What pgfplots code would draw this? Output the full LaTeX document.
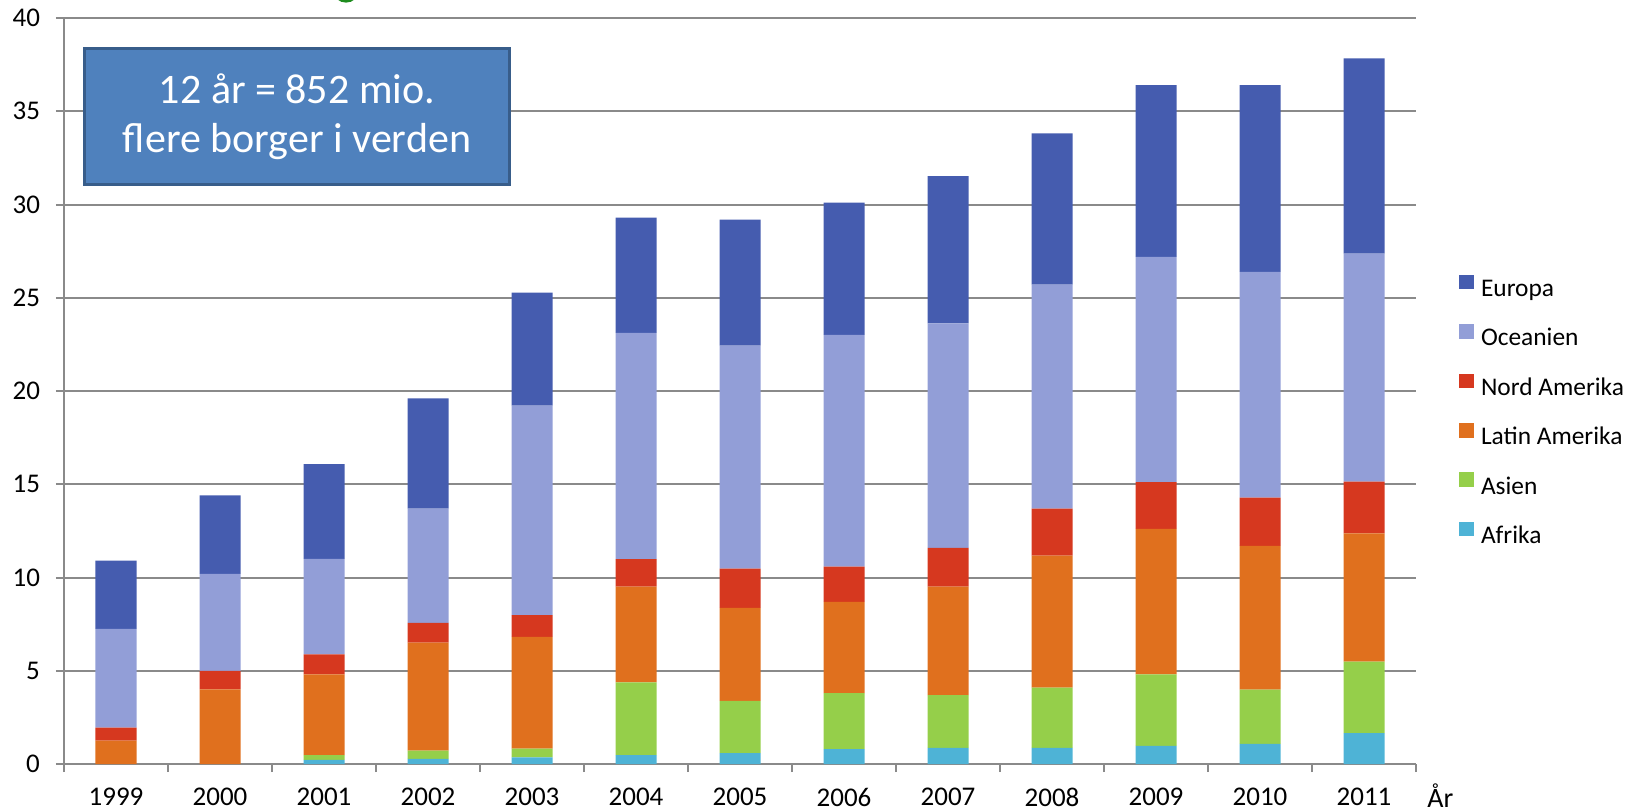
\documentclass[border=0pt]{standalone}
\usepackage{fontspec}
\setmainfont{Carlito}
\usepackage{pgfplots}
\usepackage{pgfplotstable}
\pgfplotsset{compat=1.18}
\definecolor{cEur}{HTML}{455CAF}
\definecolor{cOce}{HTML}{929ED7}
\definecolor{cNord}{HTML}{D6381F}
\definecolor{cLat}{HTML}{E0701E}
\definecolor{cAsi}{HTML}{95CF4A}
\definecolor{cAfr}{HTML}{4EB3D6}
\definecolor{boxfill}{HTML}{4F81BD}
\definecolor{boxline}{HTML}{385D8A}
\definecolor{gridgray}{HTML}{8A8A8A}
\definecolor{titlegreen}{HTML}{1E8C1E}
\pgfplotstableread{
x Afrika Asien Latin Nord Oceanien Europa
0  0.00 0.00 1.25 0.70 5.30 3.65
1  0.00 0.00 4.00 1.00 5.20 4.20
2  0.22 0.25 4.33 1.08 5.12 5.08
3  0.28 0.44 5.79 1.06 6.12 5.91
4  0.36 0.47 5.99 1.16 11.23 6.07
5  0.47 3.91 5.13 1.47 12.14 6.18
6  0.58 2.80 4.99 2.11 11.95 6.76
7  0.80 3.00 4.90 1.89 12.42 7.09
8  0.86 2.83 5.82 2.08 12.03 7.90
9  0.86 3.24 7.07 2.52 12.01 8.12
10 0.97 3.83 7.81 2.50 12.08 9.21
11 1.08 2.91 7.71 2.58 12.11 10.01
12 1.66 3.83 6.87 2.78 12.22 10.48
}\datatable
\pgfplotsset{sq/.style={legend image code/.code={\fill[##1] (0pt,0.6pt) rectangle (7.3pt,7.9pt);}}}
\begin{document}
\begin{tikzpicture}
\begin{axis}[
  scale only axis, width=676pt, height=373pt,
  ybar stacked, bar width=20.5pt,
  xmin=-0.5, xmax=12.5, ymin=0, ymax=40,
  xtick={0,...,12},
  xticklabels={1999,2000,2001,2002,2003,2004,2005,2006,2007,2008,2009,2010,2011},
  minor xtick={-0.5,0.5,...,12.5},
  ytick={0,5,...,40},
  axis lines=left,
  axis line style={-, draw=gridgray, line width=1pt},
  every outer x axis line/.append style={-},
  every outer y axis line/.append style={-},
  ymajorgrids, grid style={draw=gridgray, line width=1pt},
  tick align=outside, major tick length=4pt, minor tick length=4pt,
  tick style={draw=gridgray, line width=1pt},
  major x tick style={draw=none},
  minor x tick style={draw=gridgray, line width=1pt},
  /pgf/number format/assume math mode=true,
  ticklabel style={font=\fontsize{13.5}{15}\selectfont},
  yticklabel style={xshift=-4.5pt},
  xticklabel style={yshift=-4.5pt},
  reverse legend,
  legend cell align=left,
  legend style={at={(1,0.473)}, anchor=west, xshift=21.5pt, draw=none, fill=none, inner sep=0pt,
    font=\fontsize{12.7}{14}\selectfont,
    nodes={inner sep=0pt, text height=8pt, text depth=2pt},
    row sep=11.8pt, column sep=3.5pt},
]
\addplot[fill=cAfr, draw=none, sq] table[x=x, y=Afrika] {\datatable};
\addplot[fill=cAsi, draw=none, sq] table[x=x, y=Asien] {\datatable};
\addplot[fill=cLat, draw=none, sq] table[x=x, y=Latin] {\datatable};
\addplot[fill=cNord, draw=none, sq] table[x=x, y=Nord] {\datatable};
\addplot[fill=cOce, draw=none, sq] table[x=x, y=Oceanien] {\datatable};
\addplot[fill=cEur, draw=none, sq] table[x=x, y=Europa] {\datatable};
\legend{Afrika,Asien,Latin Amerika,Nord Amerika,Oceanien,Europa}
\coordinate (sw) at (rel axis cs:0,0);
\coordinate (se) at (rel axis cs:1,0);
\node[fill=boxfill, draw=boxline, line width=1.5pt, minimum width=212.5pt, minimum height=68pt,
  text=white, align=center, font=\fontsize{21}{24.5}\selectfont, inner sep=0pt]
  at (rel axis cs:0.1723,0.868) {12 år = 852 mio.\\flere borger i verden};
\end{axis}
\node[anchor=base west, xshift=5.5pt, yshift=-21.5pt, inner sep=0pt, font=\fontsize{14}{16}\selectfont] at (se) {År};
\draw[titlegreen, line width=1.6pt] (sw) ++(141pt,386.5pt) ellipse [x radius=5.5pt, y radius=5pt];
\pgfresetboundingbox
\path (sw) ++(-32pt,-23.5pt) rectangle ++(821pt,405.5pt);
\end{tikzpicture}
\end{document}
